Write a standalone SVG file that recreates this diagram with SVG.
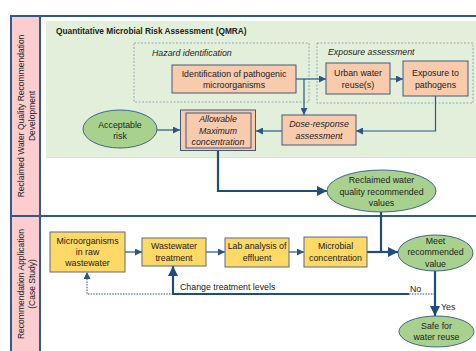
<svg xmlns="http://www.w3.org/2000/svg" width="476" height="351" viewBox="0 0 476 351">
<defs>
<marker id="a" viewBox="0 0 10 10" refX="10" refY="5" markerWidth="7" markerHeight="7" markerUnits="userSpaceOnUse" orient="auto"><path d="M0,0 L10,5 L0,10 Z" fill="#2B5585"/></marker>
<marker id="ab" viewBox="0 0 10 10" refX="10" refY="5" markerWidth="10" markerHeight="10" markerUnits="userSpaceOnUse" orient="auto"><path d="M0,0 L10,5 L0,10 Z" fill="#1F4E79"/></marker>
</defs>
<style>
text{font-family:"Liberation Sans",Arial,sans-serif;font-size:8.8px;fill:#222;text-anchor:middle}
.t{font-weight:bold;text-anchor:start;font-size:8.3px}
.i{font-style:italic}
.l{text-anchor:start}
.r{font-size:8.5px}
.frame{stroke:#2F5A8A;stroke-width:2;fill:none}
.dash{fill:none;stroke:#8C9BAE;stroke-width:0.8;stroke-dasharray:2,1.5}
.sal{fill:#F8CBAD;stroke:#44597A;stroke-width:1}
.yel{fill:#FFD966;stroke:#5B6B85;stroke-width:1}
.grn{fill:#A9D18E;stroke:#41658F;stroke-width:1}
.c{fill:none;stroke:#2B5585;stroke-width:1.2}
.cb{fill:none;stroke:#1F4E79;stroke-width:2.2}
.cd{fill:none;stroke:#2B5585;stroke-width:1;stroke-dasharray:1.5,1.2}
</style>
<rect x="12" y="17" width="27" height="334" fill="#FCCDCF"/>
<rect x="46" y="21" width="430" height="136" fill="#E2EFDA"/>
<line x1="46" y1="157.5" x2="476" y2="157.5" stroke="#D3DEEE" stroke-width="1"/>
<g id="frame">
<path class="frame" d="M11,351 V16 H476"/>
<line class="frame" x1="40" y1="16" x2="40" y2="351"/>
<line class="frame" x1="11" y1="216" x2="476" y2="216"/>
</g>
<text class="r" transform="translate(24,116) rotate(-90)">Reclaimed Water Quality Recommendation</text>
<text class="r" transform="translate(35,116) rotate(-90)">Development</text>
<text class="r" transform="translate(24,284) rotate(-90)">Recommendation Application</text>
<text class="r" transform="translate(35,284) rotate(-90)">(Case Study)</text>
<text class="t" x="56" y="34">Quantitative Microbial Risk Assessment (QMRA)</text>
<g id="hazard"><rect class="dash" x="134" y="43" width="175" height="59"/><text class="i l" x="152" y="56">Hazard identification</text></g>
<g id="exposure-group"><rect class="dash" x="317" y="43" width="156" height="60"/><text class="i l" x="328" y="55">Exposure assessment</text></g>
<g id="connectors">
<path class="c" d="M157,130 H180" marker-end="url(#a)"/>
<path class="c" d="M296,79 H326" marker-end="url(#a)"/>
<path class="c" d="M304,79 V115" marker-end="url(#a)"/>
<path class="c" d="M390,79 H403" marker-end="url(#a)"/>
<path class="c" d="M435.5,96 V131 H356" marker-end="url(#a)"/>
<path class="c" d="M282,131 H256" marker-end="url(#a)"/>
<path class="cb" d="M218,151 V191 H327" marker-end="url(#ab)"/>
<path class="cb" d="M381,212 V252"/>
<path class="c" d="M125,252 H142" marker-end="url(#a)"/>
<path class="c" d="M206,252 H225" marker-end="url(#a)"/>
<path class="c" d="M289,252 H304" marker-end="url(#a)"/>
<path class="cb" d="M367,252 H398" marker-end="url(#ab)"/>
<path class="cb" d="M435,271 V316" marker-end="url(#ab)"/>
<path class="cd" d="M435,294 H87 V272" marker-end="url(#a)"/>
<path class="cb" d="M409,294 H173 V266" marker-end="url(#ab)"/>
<text class="l" x="180" y="290">Change treatment levels</text>
<text class="l" x="410" y="292">No</text>
<text class="l" x="441" y="310">Yes</text>
</g>
<g id="identification"><rect class="sal" x="172" y="65" width="124" height="28"/><text x="234" y="77">Identification of pathogenic</text><text x="234" y="88">microorganisms</text></g>
<g id="urban"><rect class="sal" x="326" y="63" width="64" height="31"/><text x="358" y="76">Urban water</text><text x="358" y="88">reuse(s)</text></g>
<g id="exposure"><rect class="sal" x="403" y="61" width="65" height="35"/><text x="435.5" y="76">Exposure to</text><text x="435.5" y="88">pathogens</text></g>
<g id="dose"><rect class="sal" x="282" y="115" width="74" height="30"/><text class="i" x="319" y="127">Dose-response</text><text class="i" x="319" y="139">assessment</text></g>
<g id="allowable"><rect class="sal" x="180.5" y="110" width="75" height="40.5"/><rect fill="none" stroke="#44597A" stroke-width="1" x="186" y="113" width="65" height="35"/><text class="i" x="218" y="122">Allowable</text><text class="i" x="218" y="133.5">Maximum</text><text class="i" x="218" y="145">concentration</text></g>
<g id="acceptable"><ellipse class="grn" cx="120" cy="129" rx="37" ry="19"/><text x="120" y="128">Acceptable</text><text x="120" y="139">risk</text></g>
<g id="reclaimed"><ellipse class="grn" cx="381.5" cy="191" rx="54.5" ry="21"/><text x="381.5" y="183">Reclaimed water</text><text x="381.5" y="195">quality recommended</text><text x="381.5" y="206">values</text></g>
<g id="micro"><rect class="yel" x="50" y="232" width="75" height="40"/><text x="87.5" y="244">Microorganisms</text><text x="87.5" y="255">in raw</text><text x="87.5" y="266">wastewater</text></g>
<g id="treatment"><rect class="yel" x="142" y="238" width="64" height="28"/><text x="174" y="249">Wastewater</text><text x="174" y="261">treatment</text></g>
<g id="lab"><rect class="yel" x="225" y="238" width="64" height="29"/><text x="257" y="249">Lab analysis of</text><text x="257" y="261">effluent</text></g>
<g id="microbial"><rect class="yel" x="304" y="237" width="63" height="30"/><text x="335.5" y="249">Microbial</text><text x="335.5" y="261">concentration</text></g>
<g id="meet"><ellipse class="grn" cx="435.5" cy="253" rx="37.5" ry="18"/><text x="435.5" y="244">Meet</text><text x="435.5" y="255">recommended</text><text x="435.5" y="267">value</text></g>
<g id="safe"><ellipse class="grn" cx="436.5" cy="331.5" rx="37.5" ry="15.5"/><text x="436.5" y="329">Safe for</text><text x="436.5" y="340">water reuse</text></g>
</svg>
